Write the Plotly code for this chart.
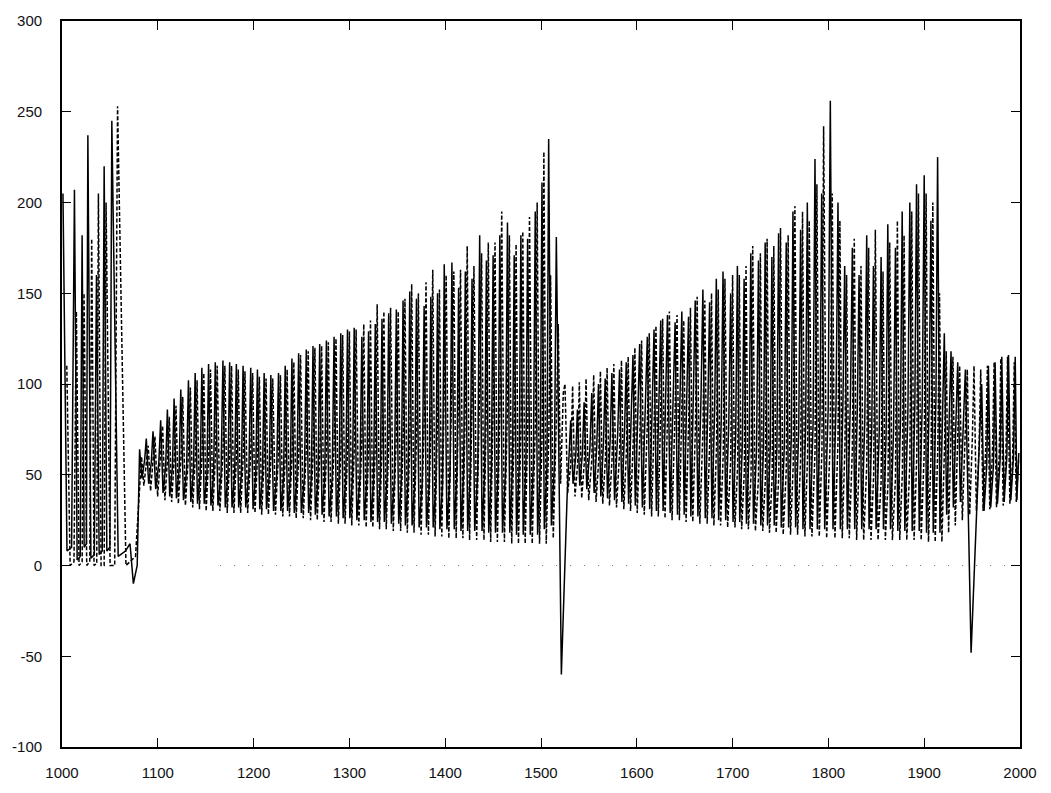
import plotly.graph_objects as go

# ---------------- data ----------------
# Each series is described cycle by cycle: time of the peak, peak value,
# trough value that follows, and the shoulder value before the next rise.

solid_t = [1001, 1013, 1021, 1027, 1036, 1044, 1052, 1071,
           1081, 1088, 1095, 1103, 1110, 1117, 1124, 1132, 1139, 1146,
           1153, 1160, 1168, 1175, 1182, 1189, 1197, 1204, 1211, 1218,
           1226, 1233, 1240, 1247, 1255, 1262, 1269, 1276, 1284, 1291,
           1298, 1305, 1313, 1320, 1327, 1334, 1341, 1349, 1356, 1363,
           1370, 1378, 1385, 1392, 1399, 1407, 1414, 1421, 1428, 1436,
           1443, 1450, 1457, 1465, 1472, 1479, 1486, 1494, 1501, 1508,
           1516,
           1531, 1538, 1545, 1553, 1560, 1567, 1574, 1582, 1589, 1596,
           1603, 1611, 1618, 1625, 1632, 1640, 1647, 1654, 1661, 1669,
           1676, 1683, 1690, 1698, 1705, 1712, 1719, 1727, 1734, 1741,
           1748, 1756, 1763, 1771, 1778, 1786, 1793, 1802,
           1810, 1817, 1825, 1832, 1840, 1847, 1855, 1862, 1870, 1877,
           1885, 1892, 1900, 1907, 1914,
           1921, 1928, 1935, 1943,
           1960, 1967, 1974, 1981, 1988, 1995]
solid_peak = [205, 207, 182, 237, 160, 220, 245, 12,
              64, 70, 74, 80, 86, 92, 97, 102, 106, 109,
              111, 112, 113, 112, 111, 110, 109, 108, 106, 105,
              106, 110, 114, 117, 119, 121, 122, 124, 126, 128,
              130, 131, 126, 129, 133, 136, 139, 141, 146, 151,
              147, 143, 148, 150, 166, 167, 153, 162, 158, 182,
              168, 171, 182, 189, 171, 182, 180, 195, 211, 235,
              181,
              80, 86, 90, 95, 100, 103, 106, 108, 112, 116,
              122, 126, 130, 135, 138, 134, 140, 137, 146, 152,
              145, 158, 162, 150, 165, 158, 172, 168, 178, 170,
              183, 178, 195, 185, 200, 224, 205, 256,
              200, 165, 175, 160, 182, 165, 170, 188, 175, 195,
              200, 210, 215, 190, 225,
              128, 118, 112, 108,
              100, 110, 112, 115, 116, 115]
solid_trough = [8, 3, 10, 4, 6, 8, 5, -10,
                48, 45, 42, 40, 38, 37, 36, 35, 34, 34,
                33, 33, 32, 32, 32, 32, 31, 31, 31, 30,
                30, 30, 29, 29, 29, 28, 28, 27, 27, 26,
                26, 25, 25, 24, 24, 24, 23, 23, 22, 22,
                21, 21, 21, 20, 20, 20, 19, 19, 19, 19,
                18, 18, 18, 18, 17, 17, 17, 17, 20, 22,
                -60,
                45, 44, 42, 40, 38, 37, 36, 35, 34, 33,
                32, 31, 30, 30, 29, 28, 28, 27, 27, 26,
                26, 25, 25, 24, 24, 23, 23, 22, 22, 22,
                21, 21, 21, 20, 20, 20, 20, 20,
                20, 20, 20, 20, 20, 20, 20, 20, 19, 19,
                19, 19, 18, 18, 18,
                28, 32, 35, -48,
                30, 32, 34, 35, 36, 36]
solid_mid = [10, 5, 12, 6, 8, 10, 8, 0,
             58, 57, 56, 55, 54, 53, 52, 52, 51, 50,
             50, 50, 50, 50, 50, 50, 50, 49, 49, 49,
             48, 48, 48, 48, 48, 48, 48, 48, 48, 48,
             48, 48, 47, 47, 47, 47, 47, 47, 47, 46,
             45, 44, 44, 45, 50, 52, 52, 52, 52, 52,
             52, 52, 52, 55, 55, 55, 55, 55, 55, 55,
             38,
             60, 62, 64, 66, 68, 70, 72, 75, 80, 85,
             92, 96, 100, 100, 100, 98, 97, 95, 92, 90,
             86, 82, 78, 72, 68, 65, 64, 64, 64, 65,
             66, 70, 74, 76, 78, 82, 86, 90,
             92, 92, 88, 80, 75, 72, 72, 74, 80, 85,
             88, 90, 92, 92, 90,
             86, 85, 85, 40,
             55, 55, 58, 60, 60, 62]

dash_t = [1005, 1015, 1023, 1031, 1038, 1046, 1058,
          1083, 1090, 1097, 1105, 1112, 1119, 1126, 1134, 1141, 1148,
          1155, 1162, 1170, 1177, 1184, 1191, 1199, 1206, 1213, 1220,
          1228, 1235, 1242, 1249, 1257, 1264, 1271, 1278, 1286, 1293,
          1300, 1307, 1315, 1322, 1329, 1336, 1343, 1351, 1358, 1365,
          1372, 1380, 1387, 1394, 1401, 1409, 1416, 1423, 1430, 1438,
          1445, 1452, 1459, 1467, 1474, 1481, 1488, 1496, 1503, 1510,
          1518,
          1525, 1533, 1540, 1547, 1555, 1562, 1569, 1576, 1584, 1591, 1598,
          1605, 1613, 1620, 1627, 1634, 1642, 1649, 1656, 1663, 1671,
          1678, 1685, 1692, 1700, 1707, 1714, 1721, 1729, 1736, 1743,
          1750, 1758, 1765, 1773, 1780, 1788, 1795, 1804,
          1812, 1819, 1827, 1834, 1842, 1849, 1857, 1864, 1872, 1879,
          1887, 1894, 1902, 1909, 1916,
          1923, 1930, 1937, 1945, 1952,
          1959, 1966, 1973, 1980, 1987, 1994]
dash_peak = [110, 140, 150, 180, 205, 200, 253,
             60, 66, 71, 77, 82, 88, 93, 98, 102, 106,
             108, 110, 110, 110, 108, 107, 106, 104, 103, 103,
             105, 108, 112, 116, 118, 120, 121, 123, 125, 127,
             129, 130, 133, 135, 144, 140, 142, 140, 147, 155,
             150, 156, 163, 152, 160, 162, 163, 176, 165, 172,
             178, 178, 195, 182, 177, 184, 192, 200, 228, 160,
             133,
             100, 99, 101, 103, 105, 107, 109, 111, 113, 115, 120,
             124, 128, 132, 136, 140, 138, 135, 142, 148, 146,
             150, 152, 158, 160, 160, 165, 176, 172, 180, 176,
             186, 182, 198, 195, 190, 210, 242, 205,
             190, 160, 180, 165, 175, 185, 162, 178, 190, 182,
             195, 205, 205, 200, 150,
             118, 115, 110, 108, 110,
             108, 110, 112, 114, 115, 112]
dash_trough = [0, 0, 0, 0, 0, 0, 0,
               44, 41, 38, 36, 35, 34, 33, 32, 31, 30,
               30, 30, 29, 29, 29, 29, 29, 28, 28, 28,
               27, 27, 26, 26, 25, 25, 24, 24, 23, 23,
               22, 22, 21, 21, 20, 20, 19, 19, 18, 18,
               17, 17, 16, 16, 15, 15, 15, 14, 14, 14,
               13, 13, 13, 12, 12, 12, 12, 12, 12, 15,
               45,
               40, 38, 37, 36, 35, 34, 33, 32, 31, 30, 29,
               28, 27, 27, 26, 25, 25, 24, 24, 23, 23,
               22, 22, 21, 21, 20, 20, 19, 19, 18, 18,
               17, 17, 17, 16, 16, 16, 15, 15,
               15, 15, 14, 14, 14, 14, 14, 14, 14, 14,
               14, 14, 13, 13, 13,
               18, 22, 25, 28, 30,
               30, 31, 32, 33, 34, 35]
dash_mid = [2, 2, 2, 1, 0, 0, 5,
            58, 58, 59, 60, 60, 60, 61, 61, 62, 62,
            62, 62, 62, 62, 62, 62, 62, 62, 62, 62,
            63, 63, 63, 64, 64, 64, 65, 65, 66, 66,
            67, 68, 68, 70, 70, 72, 72, 74, 74, 76,
            78, 82, 88, 92, 95, 97, 98, 98, 98, 97,
            95, 92, 88, 84, 80, 78, 76, 75, 75, 80,
            95,
            55, 56, 57, 58, 58, 59, 60, 62, 64, 68, 72,
            78, 82, 85, 86, 86, 85, 82, 78, 74, 70,
            66, 62, 58, 55, 52, 50, 48, 48, 48, 50,
            52, 55, 58, 60, 62, 64, 66, 68,
            66, 64, 60, 55, 50, 46, 46, 48, 52, 56,
            60, 62, 64, 66, 66,
            80, 85, 82, 70, 65,
            65, 62, 60, 60, 58, 58]

baseline_t = [1165, 1995]
baseline_v = [0, 0]

x_ticks = [1000, 1100, 1200, 1300, 1400, 1500, 1600, 1700, 1800, 1900, 2000]
y_ticks = [-100, -50, 0, 50, 100, 150, 200, 250, 300]
T_END = 2000


def build(t, peak, trough, mid, t_end):
    xs, ys = [], []
    for i in range(len(t)):
        nxt = t[i + 1] if i + 1 < len(t) else t_end
        g = nxt - t[i]
        xs += [t[i], t[i] + 0.35 * g, t[i] + 0.75 * g]
        ys += [peak[i], trough[i], mid[i]]
    return xs, ys


sx, sy = build(solid_t, solid_peak, solid_trough, solid_mid, T_END)
dx, dy = build(dash_t, dash_peak, dash_trough, dash_mid, T_END)

fig = go.Figure()
fig.add_trace(go.Scatter(x=baseline_t, y=baseline_v, mode="lines",
                         line=dict(color="#7a7a7a", width=1, dash="1px,13px"),
                         showlegend=False, hoverinfo="skip"))
fig.add_trace(go.Scatter(x=dx, y=dy, mode="lines",
                         line=dict(color="black", width=1.5, dash="4px,2px"),
                         showlegend=False))
fig.add_trace(go.Scatter(x=sx, y=sy, mode="lines",
                         line=dict(color="black", width=1.5),
                         showlegend=False))

axis_common = dict(showgrid=False, zeroline=False, showline=True,
                   linecolor="black", linewidth=1.8, mirror="ticks",
                   ticks="inside", ticklen=9, tickwidth=1.4, tickcolor="black",
                   tickfont=dict(family="Liberation Sans, Arial, sans-serif",
                                 size=15, color="#111"))

fig.update_xaxes(range=[1000, 2000], tickvals=x_ticks,
                 ticktext=[str(v) for v in x_ticks],
                 ticklabelstandoff=11, **axis_common)
fig.update_yaxes(range=[-100, 300], tickvals=y_ticks,
                 ticktext=[str(v) for v in y_ticks],
                 ticklabelstandoff=15, **axis_common)

fig.update_layout(width=1051, height=793,
                  margin=dict(l=57, r=31, t=21, b=41),
                  paper_bgcolor="white", plot_bgcolor="white")

fig.write_html("out.html")
